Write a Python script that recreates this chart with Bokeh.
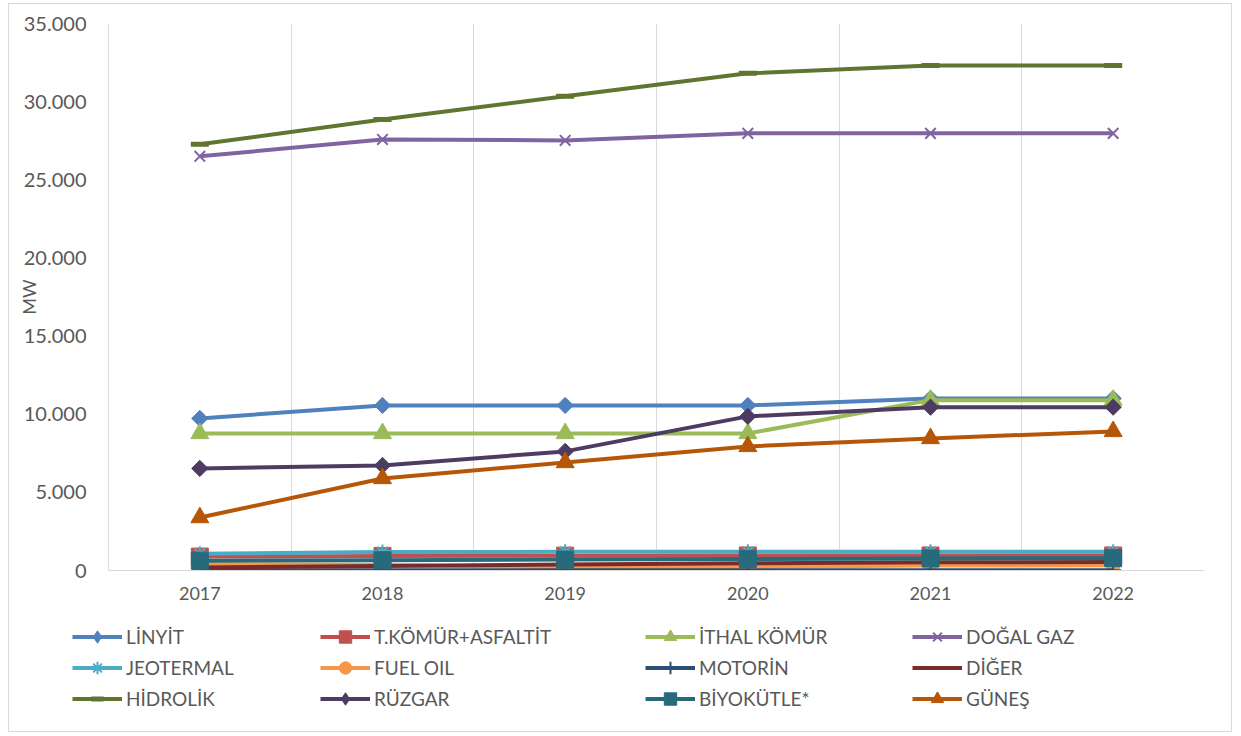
import numpy as np
from bokeh.plotting import figure
from bokeh.models import Range1d, FixedTicker, Legend, LegendItem
from bokeh.embed import file_html
from bokeh.resources import INLINE

years = [2017, 2018, 2019, 2020, 2021, 2022]

names = ["LİNYİT", "T.KÖMÜR+ASFALTİT", "İTHAL KÖMÜR", "DOĞAL GAZ",
         "JEOTERMAL", "FUEL OIL", "MOTORİN", "DİĞER",
         "HİDROLİK", "RÜZGAR", "BİYOKÜTLE*", "GÜNEŞ"]

linyit = [9730, 10560, 10560, 10560, 11010, 11010]
tkomur = [890, 930, 950, 960, 960, 960]
ithal = [8770, 8770, 8770, 8770, 10900, 10900]
dogalgaz = [26500, 27580, 27520, 27970, 27970, 27970]
jeotermal = [1070, 1180, 1195, 1195, 1195, 1195]
fueloil = [420, 350, 210, 230, 320, 330]
motorin = [20, 20, 20, 20, 20, 20]
diger = [190, 290, 390, 460, 530, 540]
hidrolik = [27270, 28860, 30340, 31810, 32320, 32320]
ruzgar = [6530, 6720, 7620, 9860, 10450, 10450]
biyokutle = [630, 660, 700, 740, 770, 790]
gunes = [3390, 5890, 6910, 7940, 8450, 8900]

series = [linyit, tkomur, ithal, dogalgaz, jeotermal, fueloil,
          motorin, diger, hidrolik, ruzgar, biyokutle, gunes]

colors = ["#4F81BD", "#C0504D", "#9BBB59", "#8064A2", "#4BACC6", "#F79646",
          "#2C4D75", "#772C2A", "#5F7530", "#4D3B62", "#276A7C", "#B65708"]

# marker, size, angle, line width (chart); legend uses "diamond" for the rotated squares
markers = [("square", 11.5, np.pi / 4, 1), ("square", 17, 0, 1), ("triangle", 18, 0, 1),
           ("x", 15, 0, 2), ("asterisk", 15, 0, 2), ("circle", 14, 0, 1),
           ("cross", 16, 0, 2), (None, 0, 0, 0), ("dash", 18, 0, 5),
           ("square", 11.5, np.pi / 4, 1), ("square", 17, 0, 1), ("triangle", 18, 0, 1)]

y_ticks = [0, 5000, 10000, 15000, 20000, 25000, 30000, 35000]
y_tick_labels = ["0", "5.000", "10.000", "15.000", "20.000", "25.000", "30.000", "35.000"]

FONT = "Lato"
TXT = "#595959"
GRID = "#d9d9d9"
BORDER = "1px solid #d9d9d9"

p = figure(width=1224, height=616, output_backend="svg", toolbar_location=None,
           x_range=Range1d(2016.5, 2022.5), y_range=Range1d(0, 35000),
           min_border_left=99, min_border_right=29, min_border_top=19,
           min_border_bottom=50)
p.styles = {"margin-left": "8px", "margin-top": "3px", "border-top": BORDER,
            "border-left": BORDER, "border-right": BORDER}
p.outline_line_color = None

# axes
p.xaxis.ticker = FixedTicker(ticks=years)
p.xaxis.major_label_overrides = {y: str(y) for y in years}
p.xaxis.major_tick_line_color = None
p.xaxis.minor_tick_line_color = None
p.xaxis.major_tick_out = 0
p.xaxis.major_tick_in = 0
p.xaxis.axis_line_color = GRID
p.xaxis.major_label_standoff = 16
p.xaxis.major_label_text_font = FONT
p.xaxis.major_label_text_font_size = "18px"
p.xaxis.major_label_text_color = TXT

p.yaxis.ticker = FixedTicker(ticks=y_ticks)
p.yaxis.major_label_overrides = dict(zip(y_ticks, y_tick_labels))
p.yaxis.major_tick_line_color = None
p.yaxis.minor_tick_line_color = None
p.yaxis.major_tick_out = 0
p.yaxis.major_tick_in = 0
p.yaxis.axis_line_color = GRID
p.yaxis.major_label_standoff = 22
p.yaxis.major_label_text_font = FONT
p.yaxis.major_label_text_font_size = "20px"
p.yaxis.major_label_text_color = TXT
p.yaxis.axis_label = "MW"
p.yaxis.axis_label_text_font = FONT
p.yaxis.axis_label_text_font_size = "18px"
p.yaxis.axis_label_text_font_style = "normal"
p.yaxis.axis_label_text_color = TXT
p.yaxis.axis_label_standoff = -19

p.ygrid.grid_line_color = None
p.xgrid.ticker = FixedTicker(ticks=[y + 0.5 for y in years])
p.xgrid.grid_line_color = GRID
p.xgrid.grid_line_width = 1

# legend figure (below the chart); its own copies of the series lie outside its view
lf = figure(width=1224, height=113, output_backend="svg", toolbar_location=None,
            x_range=Range1d(0, 1), y_range=Range1d(0, 1),
            x_axis_type=None, y_axis_type=None,
            min_border_left=0, min_border_right=0, min_border_top=0,
            min_border_bottom=0)
lf.styles = {"margin-left": "8px", "border-bottom": BORDER,
             "border-left": BORDER, "border-right": BORDER}
lf.outline_line_color = None
lf.xgrid.grid_line_color = None
lf.ygrid.grid_line_color = None


def add_series(fig, xs, vals, col, mk, sz, ang, lw):
    rs = [fig.line(xs, vals, line_color=col, line_width=4, line_join="round")]
    if mk is not None:
        if mk in ("x", "asterisk", "cross", "dash"):
            rs.append(fig.scatter(xs, vals, marker=mk, size=sz, angle=ang,
                                  line_color=col, line_width=lw))
        else:
            rs.append(fig.scatter(xs, vals, marker=mk, size=sz, angle=ang,
                                  fill_color=col, line_color=col, line_width=lw))
    return rs


items = []
for name, vals, col, (mk, sz, ang, lw) in zip(names, series, colors, markers):
    add_series(p, years, vals, col, mk, sz, ang, lw)
    lmk = "diamond" if (mk == "square" and ang != 0) else mk
    rs = add_series(lf, years, vals, col, lmk, sz, 0, lw)
    items.append(LegendItem(label=name, renderers=rs))

col_x = [63, 311, 636, 903]
for c in range(4):
    lg = Legend(items=[items[c], items[c + 4], items[c + 8]],
                location=(col_x[c], 18), orientation="vertical",
                glyph_width=50, glyph_height=31, label_height=31, spacing=0,
                label_standoff=4, padding=0, margin=0,
                border_line_color=None, background_fill_alpha=0,
                label_text_font=FONT, label_text_font_size="19px",
                label_text_color=TXT)
    lf.add_layout(lg, "center")

open("out.html", "w").write(file_html([p, lf], INLINE))
